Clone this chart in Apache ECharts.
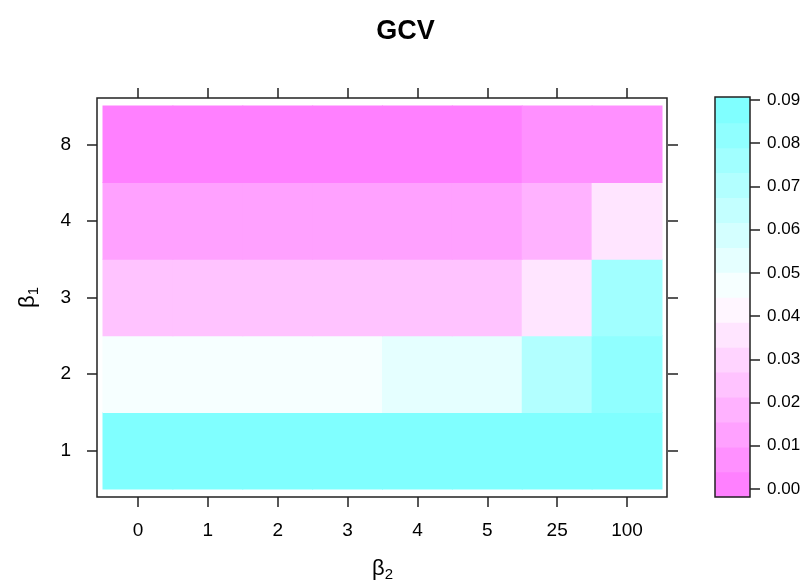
<!DOCTYPE html>
<html>
<head>
<meta charset="utf-8">
<title>GCV</title>
<script src="https://cdn.jsdelivr.net/npm/echarts@6/dist/echarts.min.js"></script>
<style>
  html, body { margin: 0; padding: 0; background: #fff; }
  #main { width: 811px; height: 585px; }
</style>
</head>
<body>
<div id="main"></div>
<script>
var FONT = '"Liberation Sans", Arial, Helvetica, sans-serif';

var beta2 = ['0', '1', '2', '3', '4', '5', '25', '100'];
var beta1 = ['1', '2', '3', '4', '8'];

// GCV for each beta1 row (bottom to top), one value per beta2 column
var gcv1 = [0.089, 0.089, 0.089, 0.089, 0.089, 0.089, 0.088, 0.088];
var gcv2 = [0.047, 0.047, 0.047, 0.047, 0.053, 0.053, 0.070, 0.082];
var gcv3 = [0.024, 0.024, 0.024, 0.024, 0.024, 0.024, 0.036, 0.076];
var gcv4 = [0.013, 0.013, 0.013, 0.013, 0.013, 0.013, 0.018, 0.036];
var gcv8 = [0.001, 0.001, 0.001, 0.001, 0.001, 0.001, 0.007, 0.007];

// colour key: 16 bands, magenta (low) -> white -> cyan (high)
var keyBreaks = [-0.0018, 0.00397, 0.00974, 0.01551, 0.02128, 0.02705, 0.03282, 0.03859,
  0.04436, 0.05013, 0.0559, 0.06167, 0.06744, 0.07321, 0.07898, 0.08475, 0.0906];
var keyColors = ['#FF80FF', '#FF90FF', '#FFA1FF', '#FFB2FF', '#FFC3FF', '#FFD4FF', '#FFE5FF', '#FFF6FF',
  '#F6FFFF', '#E5FFFF', '#D4FFFF', '#C3FFFF', '#B2FFFF', '#A1FFFF', '#90FFFF', '#80FFFF'];
var keyTicks = ['0.00', '0.01', '0.02', '0.03', '0.04', '0.05', '0.06', '0.07', '0.08', '0.09'];

var rows = [gcv1, gcv2, gcv3, gcv4, gcv8];
var cells = [];
for (var r = 0; r < rows.length; r++) {
  for (var c = 0; c < beta2.length; c++) {
    cells.push([c, r, rows[r][c]]);
  }
}

var pieces = [];
var bands = [];
for (var i = 0; i < keyColors.length; i++) {
  pieces.push({ gte: keyBreaks[i], lt: keyBreaks[i + 1], color: keyColors[i] });
  bands.push([keyBreaks[i], keyBreaks[i + 1], i]);
}
pieces[pieces.length - 1] = { gte: keyBreaks[keyBreaks.length - 2], lte: keyBreaks[keyBreaks.length - 1], color: keyColors[keyColors.length - 1] };

var tickFont = { fontFamily: FONT, fontSize: 19, color: '#000' };
var tickStyle = { show: true, inside: false, length: 10, lineStyle: { color: '#222', width: 1.5 } };
var hiddenLine = { show: true, lineStyle: { color: 'rgba(0,0,0,0)' } };
var betaRich = {
  b: { fontFamily: FONT, fontSize: 22, color: '#000' },
  s: { fontFamily: FONT, fontSize: 15, color: '#000', padding: [12, 0, 0, 0] }
};

var chart = echarts.init(document.getElementById('main'));

var option = {
  backgroundColor: '#fff',
  animation: false,
  title: {
    text: 'GCV',
    left: 'center',
    top: 13,
    textStyle: { fontFamily: FONT, fontSize: 27, fontWeight: 'bold', color: '#000' }
  },
  grid: [
    { left: 103, right: 149, top: 106, bottom: 96, outerBoundsMode: 'none', containLabel: false },
    { left: 715, width: 35, top: 100, height: 389, outerBoundsMode: 'none', containLabel: false }
  ],
  xAxis: [
    {
      type: 'category', gridIndex: 0, data: beta2, position: 'bottom', offset: 8,
      axisLine: hiddenLine,
      axisTick: Object.assign({ alignWithLabel: true, interval: 0 }, tickStyle),
      axisLabel: Object.assign({ margin: 24, interval: 0 }, tickFont),
      splitLine: { show: false },
      name: '{b|β}{s|2}',
      nameLocation: 'middle',
      nameGap: 58,
      nameTextStyle: { rich: betaRich }
    },
    {
      type: 'category', gridIndex: 0, data: beta2, position: 'top', offset: 8,
      axisLine: hiddenLine,
      axisTick: Object.assign({ alignWithLabel: true, interval: 0 }, tickStyle),
      axisLabel: { show: false },
      splitLine: { show: false }
    },
    { type: 'value', gridIndex: 1, min: 0, max: 1, show: false }
  ],
  yAxis: [
    {
      type: 'category', gridIndex: 0, data: beta1, position: 'left', offset: 6,
      axisLine: hiddenLine,
      axisTick: Object.assign({ alignWithLabel: true, interval: 0 }, tickStyle),
      axisLabel: Object.assign({ margin: 26, interval: 0 }, tickFont),
      splitLine: { show: false },
      name: '{b|β}{s|1}',
      nameLocation: 'middle',
      nameGap: 56,
      nameRotate: 90,
      nameTextStyle: { rich: betaRich }
    },
    {
      type: 'category', gridIndex: 0, data: beta1, position: 'right', offset: 6,
      axisLine: hiddenLine,
      axisTick: Object.assign({ alignWithLabel: true, interval: 0 }, tickStyle),
      axisLabel: { show: false },
      splitLine: { show: false }
    },
    // value scale of the colour key (used to place the bands)
    { type: 'value', gridIndex: 1, min: 0, max: 0.09, show: false },
    // tick marks and labels of the colour key
    {
      type: 'category', gridIndex: 1, position: 'right', data: keyTicks, boundaryGap: false,
      axisLine: hiddenLine,
      axisTick: Object.assign({ interval: 0 }, tickStyle),
      axisLabel: { margin: 17, interval: 0, fontFamily: FONT, fontSize: 17, color: '#000' },
      splitLine: { show: false }
    }
  ],
  visualMap: {
    type: 'piecewise',
    show: false,
    seriesIndex: 0,
    dimension: 2,
    pieces: pieces
  },
  series: [
    {
      type: 'custom',
      xAxisIndex: 0,
      yAxisIndex: 0,
      data: cells,
      silent: true,
      encode: { x: 0, y: 1 },
      renderItem: function (params, api) {
        var p = api.coord([api.value(0), api.value(1)]);
        var s = api.size([1, 1]);
        return {
          type: 'rect',
          shape: { x: p[0] - s[0] / 2 - 0.5, y: p[1] - s[1] / 2 - 0.5, width: s[0] + 1, height: s[1] + 1 },
          style: { fill: api.visual('color') }
        };
      }
    },
    {
      type: 'custom',
      xAxisIndex: 2,
      yAxisIndex: 2,
      data: bands,
      silent: true,
      clip: false,
      renderItem: function (params, api) {
        var p1 = api.coord([0, api.value(1)]);
        var p2 = api.coord([1, api.value(0)]);
        return {
          type: 'rect',
          shape: { x: p1[0], y: p1[1] - 0.5, width: p2[0] - p1[0], height: p2[1] - p1[1] + 1 },
          style: { fill: keyColors[api.value(2)] }
        };
      }
    }
  ],
  graphic: [
    {
      type: 'rect', z: 100, silent: true,
      shape: { x: 97, y: 98, width: 570, height: 399 },
      style: { fill: null, stroke: '#222', lineWidth: 1.5 }
    },
    {
      type: 'rect', z: 100, silent: true,
      shape: { x: 715, y: 97, width: 35, height: 400 },
      style: { fill: null, stroke: '#222', lineWidth: 1.5 }
    }
  ]
};

chart.setOption(option);
</script>
</body>
</html>
